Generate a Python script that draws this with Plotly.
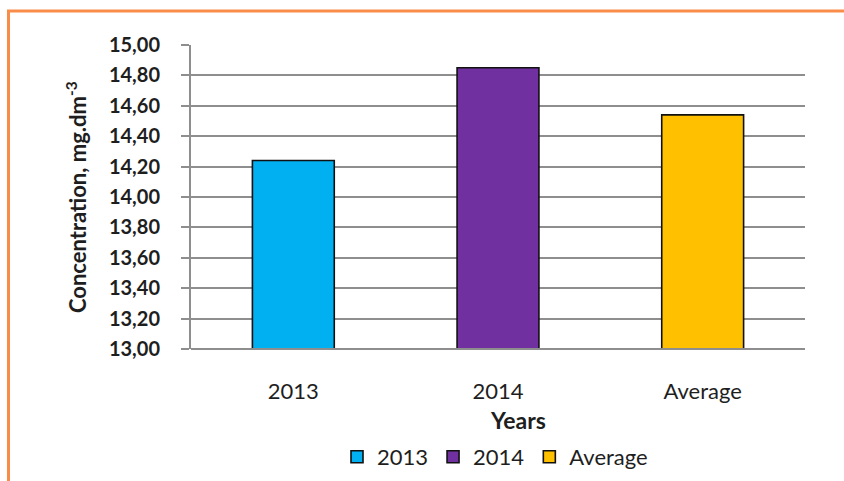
import plotly.graph_objects as go

# Concentration by year and the two-year average
categories = ["2013", "2014", "Average"]
concentration = [14.24, 14.85, 14.54]
bar_colors = ["#00B0F0", "#7030A0", "#FFC000"]
y_ticks = [13.0, 13.2, 13.4, 13.6, 13.8, 14.0, 14.2, 14.4, 14.6, 14.8, 15.0]

W, H = 844, 481
L, R, T, B = 191, 39, 45, 132  # plot area: x 191..805, y 45..349
PW, PH = W - L - R, H - T - B


def px_x(px):
    return (px - L) / PW


def px_y(py):
    return (H - B - py) / PH


FONT = "Lato, 'Open Sans', Arial, sans-serif"
GRID = "#8E8E8E"
ORANGE = "#F98C48"
TEXT = "#1E1E1E"

fig = go.Figure()
for cat, val, col in zip(categories, concentration, bar_colors):
    fig.add_trace(go.Bar(
        x=[cat], y=[val], name=cat,
        marker=dict(color=col, line=dict(color="#111111", width=1.6)),
        width=0.4,
    ))

fig.update_layout(
    width=W, height=H,
    margin=dict(l=L, r=R, t=T, b=B, pad=0, autoexpand=False),
    paper_bgcolor="white", plot_bgcolor="white",
    barmode="overlay",
    separators=", ",
    font=dict(family=FONT, color=TEXT),
    showlegend=True,
    legend=dict(
        orientation="h", x=px_x(495), y=px_y(457),
        xanchor="center", yanchor="middle",
        font=dict(size=22, family=FONT, color=TEXT),
        itemwidth=30, traceorder="normal",
    ),
    xaxis=dict(
        type="category", categoryorder="array", categoryarray=categories,
        showgrid=False, showline=False, ticks="", zeroline=False,
        tickfont=dict(size=22, family=FONT, color=TEXT),
        ticklabelstandoff=27,
    ),
    yaxis=dict(
        range=[13.0, 15.0], tickvals=y_ticks, tickformat=".2f",
        showgrid=True, gridcolor=GRID, gridwidth=2,
        showline=True, linecolor=GRID, linewidth=2,
        ticks="outside", ticklen=8, tickcolor=GRID, tickwidth=2,
        zeroline=False,
        tickfont=dict(size=20, family=FONT, color=TEXT, weight="bold"),
        ticklabelstandoff=17,
    ),
    annotations=[
        dict(
            text="<b>Concentration, mg.dm<sup>-3</sup></b>",
            xref="paper", yref="paper", x=px_x(76), y=px_y(197),
            xanchor="center", yanchor="middle", textangle=-90,
            showarrow=False, font=dict(size=22, family=FONT, color=TEXT),
        ),
        dict(
            text="<b>Years</b>",
            xref="paper", yref="paper", x=px_x(518), y=px_y(420),
            xanchor="center", yanchor="middle",
            showarrow=False, font=dict(size=23, family=FONT, color=TEXT),
        ),
    ],
    shapes=[
        # x axis baseline
        dict(type="line", xref="paper", yref="paper", x0=0, x1=1, y0=0, y1=0,
             line=dict(color=GRID, width=2)),
        # orange frame (top and left edges)
        dict(type="line", xref="paper", yref="paper",
             x0=px_x(7), x1=px_x(850), y0=px_y(11), y1=px_y(11),
             line=dict(color=ORANGE, width=3)),
        dict(type="line", xref="paper", yref="paper",
             x0=px_x(8.5), x1=px_x(8.5), y0=px_y(10), y1=px_y(490),
             line=dict(color=ORANGE, width=3)),
    ],
)

fig.write_html("out.html")
